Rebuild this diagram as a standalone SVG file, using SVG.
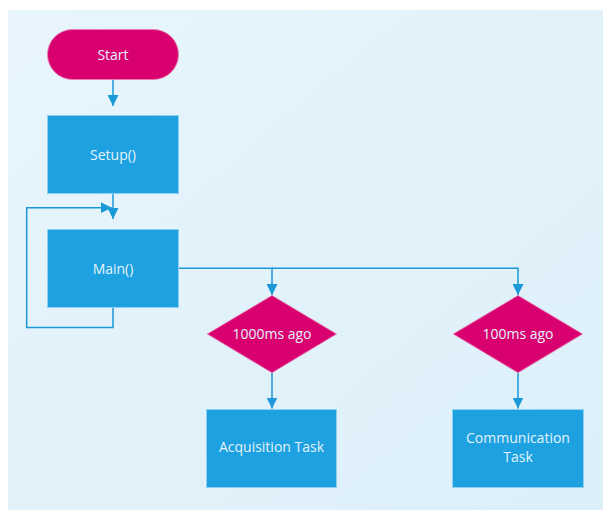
<svg xmlns="http://www.w3.org/2000/svg" width="603" height="510" viewBox="0 0 603 510">
<defs>
<linearGradient id="bg" x1="0" y1="0" x2="1" y2="1">
<stop offset="0" stop-color="#E8F5FC"/>
<stop offset="1" stop-color="#DCEFF9"/>
</linearGradient>
<marker id="arr" viewBox="0 0 10 10" refX="10" refY="5" markerWidth="11" markerHeight="11" markerUnits="userSpaceOnUse" orient="auto">
<path d="M0,0 L10,5 L0,10 z" fill="#1B98D8"/>
</marker>
<style>
.blue{fill:#1DA1E1;stroke:#8FD0F0;stroke-width:1}
.mag{fill:#D9006F;stroke:#E97AB0;stroke-width:0.8}
.lbl{font-family:"Open Sans","Noto Sans",sans-serif;font-size:14px;fill:#E4F3FB;text-anchor:middle;dominant-baseline:central}
.con{fill:none;stroke:#1B98D8;stroke-width:1.5}
</style>
</defs>
<rect x="8" y="10" width="595" height="500" fill="url(#bg)"/>
<g id="connectors">
<path class="con" d="M113,79 V106" marker-end="url(#arr)"/>
<path class="con" d="M113,194 V219" marker-end="url(#arr)"/>
<path class="con" d="M113,307 V327.5 H26.7 V207.7 H111.7" marker-end="url(#arr)"/>
<path class="con" d="M178.5,268.3 H272 V295" marker-end="url(#arr)"/>
<path class="con" d="M272,268.3 H518 V295" marker-end="url(#arr)"/>
<path class="con" d="M272,373 V408.5" marker-end="url(#arr)"/>
<path class="con" d="M518,373 V408.5" marker-end="url(#arr)"/>
</g>
<g id="start">
<rect class="mag" x="47.5" y="29.5" width="131" height="50" rx="25" ry="25"/>
<text class="lbl" x="113" y="54">Start</text>
</g>
<g id="setup">
<rect class="blue" x="47.5" y="115.5" width="131" height="78"/>
<text class="lbl" x="113" y="154">Setup()</text>
</g>
<g id="main">
<rect class="blue" x="47.5" y="229.5" width="131" height="78"/>
<text class="lbl" x="113" y="268">Main()</text>
</g>
<g id="d1000">
<polygon class="mag" points="272,295.5 336.5,334 272,372.7 207.3,334"/>
<text class="lbl" x="272" y="333">1000ms ago</text>
</g>
<g id="d100">
<polygon class="mag" points="518,295.5 582.5,334 518,372.7 453.3,334"/>
<text class="lbl" x="518" y="333">100ms ago</text>
</g>
<g id="acq">
<rect class="blue" x="206.5" y="409.5" width="130" height="78"/>
<text class="lbl" x="271.5" y="446.5">Acquisition Task</text>
</g>
<g id="comm">
<rect class="blue" x="452.5" y="409.5" width="131" height="78"/>
<text class="lbl" x="518" y="437.5">Communication</text>
<text class="lbl" x="518" y="456">Task</text>
</g>
</svg>
